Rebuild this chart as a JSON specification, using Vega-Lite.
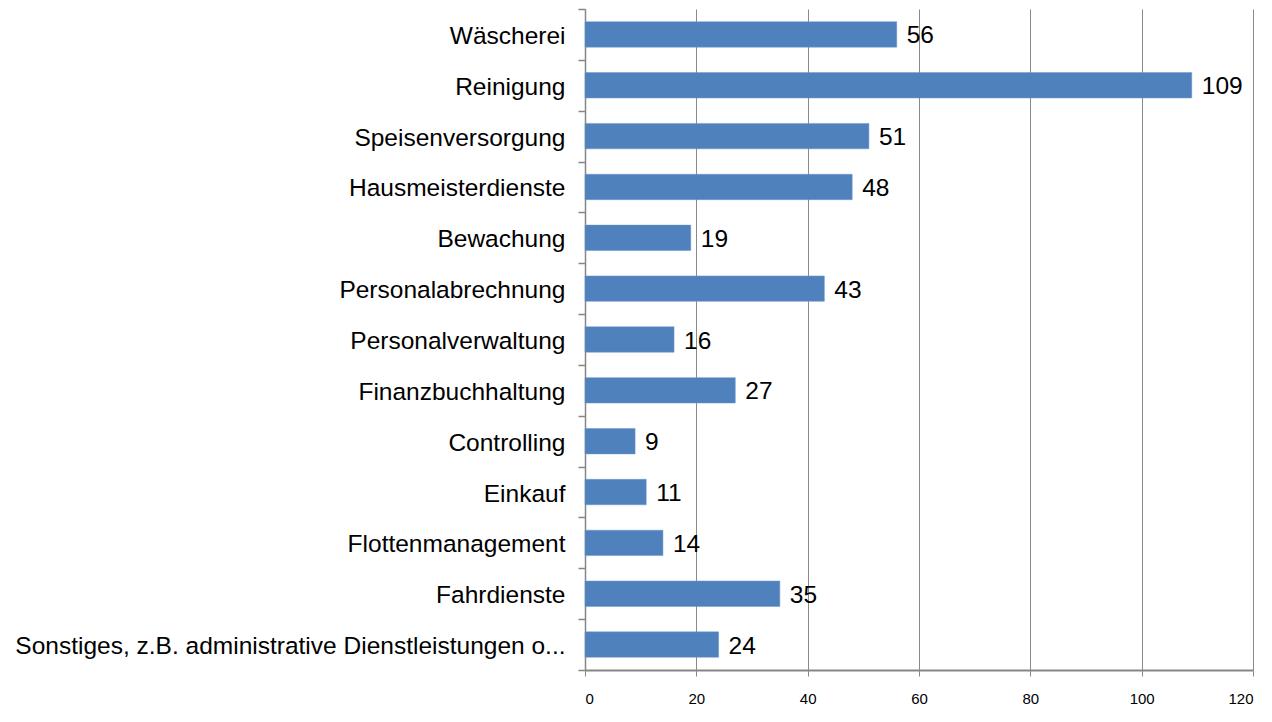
{
  "$schema": "https://vega.github.io/schema/vega-lite/v6.json",
  "autosize": {"type": "none"},
  "padding": {"left": 585, "top": 9, "right": 19, "bottom": 52},
  "width": 668,
  "height": 661,
  "background": "white",
  "config": {"view": {"stroke": null}, "font": "Liberation Sans"},
  "data": {"values": [
    {"category": "Wäscherei", "value": 56},
    {"category": "Reinigung", "value": 109},
    {"category": "Speisenversorgung", "value": 51},
    {"category": "Hausmeisterdienste", "value": 48},
    {"category": "Bewachung", "value": 19},
    {"category": "Personalabrechnung", "value": 43},
    {"category": "Personalverwaltung", "value": 16},
    {"category": "Finanzbuchhaltung", "value": 27},
    {"category": "Controlling", "value": 9},
    {"category": "Einkauf", "value": 11},
    {"category": "Flottenmanagement", "value": 14},
    {"category": "Fahrdienste", "value": 35},
    {"category": "Sonstiges, z.B. administrative Dienstleistungen o...", "value": 24}
  ]},
  "encoding": {
    "y": {
      "field": "category", "type": "nominal", "sort": null, "title": null,
      "scale": {"paddingInner": 0, "paddingOuter": 0},
      "axis": {
        "tickBand": "extent", "grid": false, "domainColor": "#868686", "domainWidth": 1.5,
        "tickColor": "#868686", "tickWidth": 1.5, "tickSize": 7,
        "labelFontSize": 24.5, "labelColor": "#000000", "labelPadding": 13, "labelOffset": 2,
        "labelLimit": 0, "labelFont": "Liberation Sans"
      }
    },
    "x": {
      "field": "value", "type": "quantitative", "title": null,
      "scale": {"domain": [0, 120], "nice": false},
      "axis": {
        "values": [0, 20, 40, 60, 80, 100, 120], "grid": true, "gridColor": "#8a8a8a", "gridWidth": 1,
        "domainColor": "#868686", "domainWidth": 2, "tickColor": "#868686", "tickSize": 6, "tickWidth": 1,
        "labelFontSize": 15, "labelColor": "#000000", "labelPadding": 15, "labelFont": "Liberation Sans"
      }
    }
  },
  "layer": [
    {"mark": {"type": "bar", "color": "#4f81bd", "stroke": "#6e97c8", "strokeWidth": 0.5, "height": {"band": 0.5}}},
    {"mark": {"type": "text", "align": "left", "baseline": "middle", "dx": 10, "dy": 2, "fontSize": 24.5, "color": "#000000"},
     "encoding": {"text": {"field": "value", "type": "quantitative"}}}
  ]
}
